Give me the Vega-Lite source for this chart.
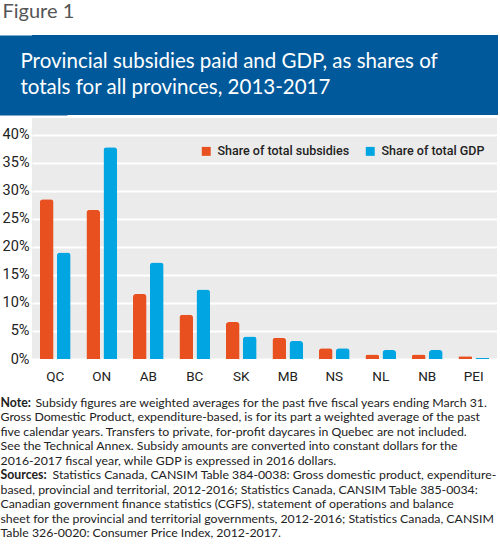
{
  "$schema": "https://vega.github.io/schema/vega-lite/v6.json",
  "padding": {"top": 2, "left": 0, "right": 0, "bottom": 0},
  "background": "white",
  "spacing": 3,
  "title": {"text": "Figure 1", "anchor": "start", "font": "Lato", "fontSize": 20, "fontWeight": "normal", "color": "#555555", "offset": 13, "dx": 2},
  "config": {"view": {"stroke": null}},
  "resolve": {"legend": {"color": "independent"}, "scale": {"color": "independent"}},
  "vconcat": [
    {
      "width": 466,
      "height": 80,
      "view": {"fill": "#00599b", "stroke": null},
      "data": {"values": [
        {"line": 1, "text": "Provincial subsidies paid and GDP, as shares of"},
        {"line": 2, "text": "totals for all provinces, 2013-2017"}
      ]},
      "mark": {"type": "text", "align": "left", "baseline": "middle", "font": "Lato", "fontSize": 20.5, "color": "white", "fontWeight": "normal"},
      "encoding": {
        "x": {"value": -11.5},
        "y": {"field": "line", "type": "ordinal", "scale": {"type": "point", "padding": 1.5},
              "axis": {"title": null, "labels": false, "ticks": false, "grid": false, "domain": true, "domainColor": "#00599b", "domainWidth": 70, "domainCap": "butt"}},
        "text": {"field": "text"}
      }
    },
    {
      "width": 465,
      "height": 241,
      "view": {"fill": "#ebebeb", "stroke": null},
      "data": {"values": [
        {"province": "QC", "series": "Share of total subsidies", "value": 28.5},
        {"province": "QC", "series": "Share of total GDP", "value": 19.0},
        {"province": "ON", "series": "Share of total subsidies", "value": 26.6},
        {"province": "ON", "series": "Share of total GDP", "value": 37.8},
        {"province": "AB", "series": "Share of total subsidies", "value": 11.6},
        {"province": "AB", "series": "Share of total GDP", "value": 17.2},
        {"province": "BC", "series": "Share of total subsidies", "value": 7.9},
        {"province": "BC", "series": "Share of total GDP", "value": 12.4},
        {"province": "SK", "series": "Share of total subsidies", "value": 6.6},
        {"province": "SK", "series": "Share of total GDP", "value": 4.0},
        {"province": "MB", "series": "Share of total subsidies", "value": 3.8},
        {"province": "MB", "series": "Share of total GDP", "value": 3.2},
        {"province": "NS", "series": "Share of total subsidies", "value": 1.9},
        {"province": "NS", "series": "Share of total GDP", "value": 1.9},
        {"province": "NL", "series": "Share of total subsidies", "value": 0.8},
        {"province": "NL", "series": "Share of total GDP", "value": 1.6},
        {"province": "NB", "series": "Share of total subsidies", "value": 0.8},
        {"province": "NB", "series": "Share of total GDP", "value": 1.6},
        {"province": "PEI", "series": "Share of total subsidies", "value": 0.5},
        {"province": "PEI", "series": "Share of total GDP", "value": 0.2}
      ]},
      "mark": {"type": "bar", "cornerRadiusTopLeft": 3, "cornerRadiusTopRight": 3},
      "encoding": {
        "x": {
          "field": "province", "type": "nominal",
          "sort": ["QC", "ON", "AB", "BC", "SK", "MB", "NS", "NL", "NB", "PEI"],
          "scale": {"paddingInner": 0.34, "paddingOuter": 0.17},
          "axis": {"title": null, "labelAngle": 0, "domain": false, "ticks": false, "labelPadding": 10, "labelFont": "Roboto", "labelFontSize": 13.5, "labelColor": "#222222"}
        },
        "xOffset": {
          "field": "series", "type": "nominal",
          "sort": ["Share of total subsidies", "Share of total GDP"],
          "scale": {"paddingInner": 0.2}
        },
        "y": {
          "field": "value", "type": "quantitative",
          "scale": {"domain": [0, 43], "nice": false},
          "axis": {"title": null, "values": [0, 5, 10, 15, 20, 25, 30, 35, 40], "labelExpr": "datum.value + '%'", "domain": false, "ticks": false, "gridColor": "white", "gridWidth": 2, "labelPadding": 3, "labelFont": "Roboto", "labelFontSize": 14.5, "labelColor": "#222222"}
        },
        "color": {
          "field": "series", "type": "nominal",
          "scale": {"domain": ["Share of total subsidies", "Share of total GDP"], "range": ["#e8501f", "#00a5e1"]},
          "legend": {"title": null, "orient": "none", "legendX": 168, "legendY": 27, "direction": "horizontal", "symbolType": "square", "symbolSize": 80, "symbolStrokeWidth": 0, "labelFont": "Roboto", "labelFontSize": 12.5, "labelFontWeight": 500, "labelColor": "#222222", "columnPadding": 14, "labelOffset": 5}
        }
      }
    },
    {
      "width": 466,
      "height": 160,
      "data": {"values": [
        {"line": 1, "label": "Note:", "text": "Subsidy figures are weighted averages for the past five fiscal years ending March 31."},
        {"line": 2, "label": "", "text": "Gross Domestic Product, expenditure-based, is for its part a weighted average of the past"},
        {"line": 3, "label": "", "text": "five calendar years. Transfers to private, for-profit daycares in Quebec are not included."},
        {"line": 4, "label": "", "text": "See the Technical Annex. Subsidy amounts are converted into constant dollars for the"},
        {"line": 5, "label": "", "text": "2016-2017 fiscal year, while GDP is expressed in 2016 dollars."},
        {"line": 6, "label": "Sources:", "text": "Statistics Canada, CANSIM Table 384-0038: Gross domestic product, expenditure-"},
        {"line": 7, "label": "", "text": "based, provincial and territorial, 2012-2016; Statistics Canada, CANSIM Table 385-0034:"},
        {"line": 8, "label": "", "text": "Canadian government finance statistics (CGFS), statement of operations and balance"},
        {"line": 9, "label": "", "text": "sheet for the provincial and territorial governments, 2012-2016; Statistics Canada, CANSIM"},
        {"line": 10, "label": "", "text": "Table 326-0020: Consumer Price Index, 2012-2017."}
      ]},
      "encoding": {
        "x": {"value": -31.5},
        "y": {"field": "line", "type": "quantitative", "axis": null, "scale": {"domain": [-0.177, 10.903], "nice": false, "zero": false, "reverse": true}}
      },
      "layer": [
        {
          "transform": [{"filter": "datum.label != ''"}],
          "mark": {"type": "text", "align": "left", "baseline": "middle", "font": "Lato", "fontSize": 12.3, "fontWeight": "bold", "color": "#222222"},
          "encoding": {"text": {"field": "label"}}
        },
        {
          "transform": [{"filter": "datum.line == 1"}],
          "mark": {"type": "text", "align": "left", "baseline": "middle", "font": "Lato", "fontSize": 12.3, "color": "#222222", "dx": 35},
          "encoding": {"text": {"field": "text"}}
        },
        {
          "transform": [{"filter": "datum.line == 6"}],
          "mark": {"type": "text", "align": "left", "baseline": "middle", "font": "Lato", "fontSize": 12.3, "color": "#222222", "dx": 52},
          "encoding": {"text": {"field": "text"}}
        },
        {
          "transform": [{"filter": "datum.line != 1 && datum.line != 6"}],
          "mark": {"type": "text", "align": "left", "baseline": "middle", "font": "Lato", "fontSize": 12.3, "color": "#222222"},
          "encoding": {"text": {"field": "text"}}
        }
      ]
    }
  ]
}
